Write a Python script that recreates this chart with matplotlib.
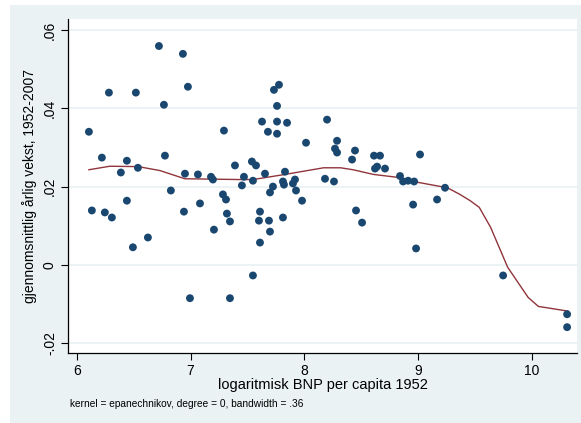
import matplotlib.pyplot as plt
from matplotlib.patches import Rectangle

# log GDP per capita 1952 and mean annual growth 1952-2007
log_gdp = [6.106, 6.282, 6.519, 6.722, 6.933, 6.977, 6.766, 6.220, 6.440, 6.775,
           7.294, 7.391, 6.387, 6.537, 6.951, 7.065, 7.180, 7.197, 7.452, 6.827,
           6.132, 6.246, 6.308, 6.440, 6.493, 6.625, 6.942, 7.083, 7.206, 7.285,
           7.312, 7.320, 7.347, 6.995, 7.347, 7.734, 7.778, 7.761, 7.629, 7.761,
           7.849, 7.681, 7.761, 8.016, 8.201, 8.289, 8.271, 8.289, 8.447, 8.421,
           8.614, 8.667, 8.623, 8.641, 8.711, 7.540, 7.576, 7.470, 7.655, 7.831,
           8.843, 7.549, 7.813, 7.822, 7.725, 7.699, 7.901, 7.919, 7.928, 7.981,
           8.183, 8.262, 7.611, 7.602, 7.690, 7.699, 7.611, 7.813, 8.456, 8.509,
           7.549, 9.019, 8.870, 8.914, 8.967, 9.239, 9.169, 8.958, 8.984, 9.750,
           10.313, 10.313]
growth = [0.0340, 0.0440, 0.0440, 0.0559, 0.0539, 0.0455, 0.0409, 0.0274, 0.0266, 0.0279,
          0.0343, 0.0254, 0.0236, 0.0248, 0.0233, 0.0231, 0.0225, 0.0218, 0.0203, 0.0190,
          0.0139, 0.0134, 0.0121, 0.0164, 0.0045, 0.0070, 0.0136, 0.0157, 0.0090, 0.0180,
          0.0167, 0.0131, 0.0111, -0.0085, -0.0085, 0.0447, 0.0460, 0.0406, 0.0366, 0.0366,
          0.0363, 0.0340, 0.0335, 0.0312, 0.0371, 0.0317, 0.0297, 0.0287, 0.0292, 0.0269,
          0.0279, 0.0279, 0.0246, 0.0251, 0.0246, 0.0264, 0.0254, 0.0225, 0.0233, 0.0238,
          0.0227, 0.0215, 0.0213, 0.0205, 0.0200, 0.0185, 0.0208, 0.0218, 0.0190, 0.0164,
          0.0220, 0.0213, 0.0136, 0.0113, 0.0113, 0.0085, 0.0057, 0.0121, 0.0139, 0.0108,
          -0.0027, 0.0282, 0.0213, 0.0215, 0.0213, 0.0197, 0.0167, 0.0154, 0.0042, -0.0027,
          -0.0126, -0.0159]

# local polynomial smooth (epanechnikov, degree 0)
smooth_x = [6.106, 6.29, 6.54, 6.73, 6.95, 7.43, 7.55, 7.83, 8.17, 8.32, 8.43, 8.61,
            8.84, 8.96, 9.26, 9.37, 9.46, 9.54, 9.64, 9.79, 9.97, 10.06, 10.32]
smooth_y = [0.0243, 0.0252, 0.0251, 0.0241, 0.0220, 0.0218, 0.0218, 0.0231, 0.0248, 0.0248,
            0.0243, 0.0231, 0.0223, 0.0213, 0.0197, 0.0180, 0.0164, 0.0147, 0.0096, -0.0006,
            -0.0083, -0.0106, -0.0118]

x_ticks = [6, 7, 8, 9, 10]
y_ticks = [-0.02, 0, 0.02, 0.04, 0.06]
y_ticklabels = ['-.02', '0', '.02', '.04', '.06']

W, H = 581, 423
bg = '#EAF2F3'
plt.rcParams['font.family'] = ['Liberation Sans', 'DejaVu Sans']

fig = plt.figure(figsize=(W / 100, H / 100), dpi=100)
fig.patch.set_facecolor('white')
fig.patches.append(Rectangle((10 / W, 0), 1 - 10 / W, 1 - 5 / H, transform=fig.transFigure,
                             facecolor=bg, edgecolor='none', zorder=-10))

ax = fig.add_axes([68 / W, 1 - 353 / H, (577 - 68) / W, (353 - 19) / H])
ax.set_facecolor('white')

ax.plot(smooth_x, smooth_y, color='#90353B', lw=1.0, zorder=2)
ax.scatter(log_gdp, growth, s=32, color='#1A476F', edgecolors='none', zorder=3)

ax.set_xlim(5.922, 10.40)
ax.set_ylim(-0.0225, 0.0628)
ax.set_xticks(x_ticks)
ax.set_yticks(y_ticks)
ax.set_yticklabels(y_ticklabels, rotation=90, va='center')
ax.tick_params(direction='out', length=5, width=0.8, colors='black', labelsize=10, pad=3)
for y in y_ticks:
    ax.axhline(y, color=bg, lw=1.3, zorder=1)

for side in ['top', 'right']:
    ax.spines[side].set_visible(False)
for side in ['left', 'bottom']:
    ax.spines[side].set_linewidth(0.9)

ax.set_xlabel('logaritmisk BNP per capita 1952', fontsize=10.5, labelpad=0)
ax.set_ylabel('gjennomsnittlig årlig vekst, 1952-2007', fontsize=10, labelpad=4)
fig.text(70 / W, 1 - 404 / H, 'kernel = epanechnikov, degree = 0, bandwidth = .36',
         fontsize=7.3, va='center', ha='left')

fig.savefig('out.png', dpi=100)
